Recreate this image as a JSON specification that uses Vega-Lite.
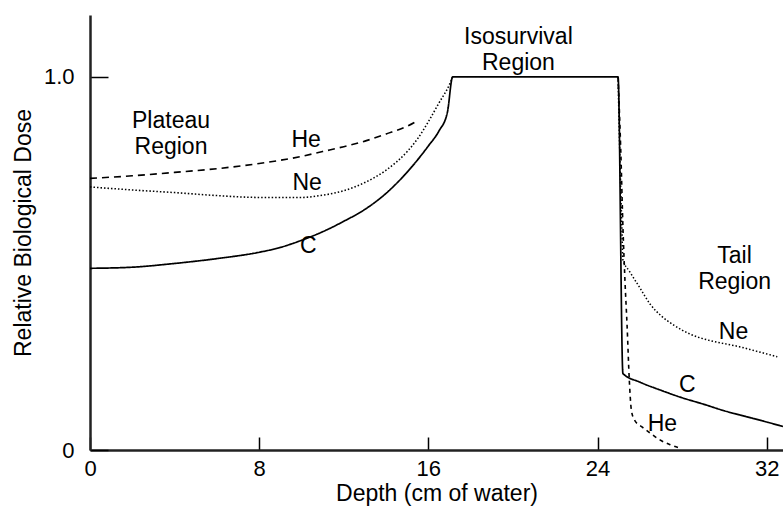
{
  "$schema": "https://vega.github.io/schema/vega-lite/v6.json",
  "width": 693,
  "height": 435,
  "autosize": {"type": "none"},
  "padding": {"left": 90, "top": 15, "right": 0, "bottom": 56},
  "config": {"view": {"stroke": null}, "font": "Liberation Sans"},
  "layer": [
    {
      "data": {"values": [
        {"s": "C", "d": 0, "v": 0.487},
        {"s": "C", "d": 2, "v": 0.49},
        {"s": "C", "d": 4, "v": 0.5},
        {"s": "C", "d": 6, "v": 0.513},
        {"s": "C", "d": 8, "v": 0.53},
        {"s": "C", "d": 9, "v": 0.543},
        {"s": "C", "d": 10, "v": 0.562},
        {"s": "C", "d": 11, "v": 0.585},
        {"s": "C", "d": 12, "v": 0.613},
        {"s": "C", "d": 13, "v": 0.645},
        {"s": "C", "d": 14, "v": 0.688},
        {"s": "C", "d": 15, "v": 0.745},
        {"s": "C", "d": 16, "v": 0.815},
        {"s": "C", "d": 16.5, "v": 0.855},
        {"s": "C", "d": 16.9, "v": 0.905},
        {"s": "C", "d": 17.15, "v": 1.0},
        {"s": "C", "d": 24.97, "v": 1.0},
        {"s": "C", "d": 25.2, "v": 0.205},
        {"s": "C", "d": 26, "v": 0.182},
        {"s": "C", "d": 27, "v": 0.16},
        {"s": "C", "d": 28, "v": 0.14},
        {"s": "C", "d": 29, "v": 0.123},
        {"s": "C", "d": 30, "v": 0.105},
        {"s": "C", "d": 31, "v": 0.09},
        {"s": "C", "d": 32, "v": 0.075},
        {"s": "C", "d": 32.77, "v": 0.063},
        {"s": "He1", "d": 0, "v": 0.728},
        {"s": "He1", "d": 2, "v": 0.735},
        {"s": "He1", "d": 4, "v": 0.744},
        {"s": "He1", "d": 6, "v": 0.754},
        {"s": "He1", "d": 8, "v": 0.768},
        {"s": "He1", "d": 10, "v": 0.787},
        {"s": "He1", "d": 11, "v": 0.8},
        {"s": "He1", "d": 12, "v": 0.813},
        {"s": "He1", "d": 13, "v": 0.828},
        {"s": "He1", "d": 14, "v": 0.847},
        {"s": "He1", "d": 15, "v": 0.868},
        {"s": "He1", "d": 15.4, "v": 0.88},
        {"s": "He2", "d": 24.97, "v": 1.0},
        {"s": "He2", "d": 25.1, "v": 0.8},
        {"s": "He2", "d": 25.2, "v": 0.6},
        {"s": "He2", "d": 25.3, "v": 0.45},
        {"s": "He2", "d": 25.4, "v": 0.33},
        {"s": "He2", "d": 25.5, "v": 0.19},
        {"s": "He2", "d": 25.6, "v": 0.107},
        {"s": "He2", "d": 25.75, "v": 0.08},
        {"s": "He2", "d": 26.1, "v": 0.062},
        {"s": "He2", "d": 26.5, "v": 0.045},
        {"s": "He2", "d": 26.95, "v": 0.027},
        {"s": "He2", "d": 27.4, "v": 0.015},
        {"s": "He2", "d": 27.9, "v": 0.005},
        {"s": "Ne1", "d": 0, "v": 0.705},
        {"s": "Ne1", "d": 2, "v": 0.697},
        {"s": "Ne1", "d": 4, "v": 0.69},
        {"s": "Ne1", "d": 6, "v": 0.682},
        {"s": "Ne1", "d": 8, "v": 0.677},
        {"s": "Ne1", "d": 10, "v": 0.677},
        {"s": "Ne1", "d": 11, "v": 0.683},
        {"s": "Ne1", "d": 12, "v": 0.695},
        {"s": "Ne1", "d": 13, "v": 0.717},
        {"s": "Ne1", "d": 14, "v": 0.75},
        {"s": "Ne1", "d": 15, "v": 0.8},
        {"s": "Ne1", "d": 15.5, "v": 0.835},
        {"s": "Ne1", "d": 16, "v": 0.88},
        {"s": "Ne1", "d": 16.5, "v": 0.93},
        {"s": "Ne1", "d": 17.0, "v": 0.98},
        {"s": "Ne1", "d": 17.15, "v": 1.0},
        {"s": "Ne2", "d": 24.97, "v": 1.0},
        {"s": "Ne2", "d": 25.05, "v": 0.8},
        {"s": "Ne2", "d": 25.15, "v": 0.6},
        {"s": "Ne2", "d": 25.2, "v": 0.51},
        {"s": "Ne2", "d": 25.5, "v": 0.48},
        {"s": "Ne2", "d": 26.0, "v": 0.435},
        {"s": "Ne2", "d": 26.5, "v": 0.39},
        {"s": "Ne2", "d": 27.0, "v": 0.36},
        {"s": "Ne2", "d": 27.6, "v": 0.335},
        {"s": "Ne2", "d": 28.4, "v": 0.31},
        {"s": "Ne2", "d": 29.2, "v": 0.295},
        {"s": "Ne2", "d": 30.0, "v": 0.285},
        {"s": "Ne2", "d": 30.7, "v": 0.277},
        {"s": "Ne2", "d": 31.5, "v": 0.265},
        {"s": "Ne2", "d": 32.5, "v": 0.25}
      ]},
      "mark": {"type": "line", "color": "black", "strokeCap": "butt", "interpolate": "monotone"},
      "encoding": {
        "x": {
          "field": "d", "type": "quantitative",
          "scale": {"domain": [0, 32.77], "nice": false, "zero": false},
          "axis": {
            "values": [0, 8, 16, 24, 32],
            "title": "Depth (cm of water)",
            "grid": false,
            "tickSize": -13,
            "tickColor": "black",
            "tickWidth": 1.5,
            "domainColor": "#222",
            "domainWidth": 2.5,
            "labelFontSize": 22,
            "labelFont": "Liberation Sans",
            "labelColor": "black",
            "labelPadding": 21,
            "labelFlush": false,
            "labelOverlap": false,
            "labelBound": false,
            "titleFont": "Liberation Sans",
            "titleFontSize": 23,
            "titleFontWeight": "normal",
            "titleColor": "black",
            "titlePadding": 3
          }
        },
        "y": {
          "field": "v", "type": "quantitative",
          "scale": {"domain": [0, 1.166], "nice": false},
          "axis": {
            "values": [0, 1],
            "labelExpr": "datum.value == 0 ? '0' : '1.0'",
            "title": "Relative Biological Dose",
            "grid": false,
            "tickSize": -18,
            "tickColor": "black",
            "tickWidth": 1.5,
            "domainColor": "#222",
            "domainWidth": 2.5,
            "labelFontSize": 22,
            "labelFont": "Liberation Sans",
            "labelColor": "black",
            "labelPadding": 34,
            "labelOverlap": false,
            "labelBound": false,
            "titleFont": "Liberation Sans",
            "titleFontSize": 23,
            "titleFontWeight": "normal",
            "titleColor": "black",
            "titlePadding": 8
          }
        },
        "detail": {"field": "s"},
        "strokeDash": {
          "field": "s", "type": "nominal",
          "scale": {"domain": ["C", "He1", "He2", "Ne1", "Ne2"], "range": [[1, 0], [7, 5], [4, 4], [1.5, 2], [1.5, 2]]},
          "legend": null
        },
        "strokeWidth": {
          "field": "s", "type": "nominal",
          "scale": {"domain": ["C", "He1", "He2", "Ne1", "Ne2"], "range": [1.7, 1.5, 1.5, 1.4, 1.4]},
          "legend": null
        }
      }
    },
    {
      "data": {"values": [
        {"t": "Isosurvival\nRegion", "d": 20.26, "v": 1.107},
        {"t": "Plateau\nRegion", "d": 3.83, "v": 0.882},
        {"t": "Tail\nRegion", "d": 30.48, "v": 0.52},
        {"t": "He", "d": 10.22, "v": 0.831},
        {"t": "Ne", "d": 10.27, "v": 0.715},
        {"t": "C", "d": 10.32, "v": 0.548},
        {"t": "Ne", "d": 30.43, "v": 0.317},
        {"t": "C", "d": 28.25, "v": 0.175},
        {"t": "He", "d": 27.07, "v": 0.07}
      ]},
      "mark": {"type": "text", "font": "Liberation Sans", "fontSize": 23, "lineBreak": "\n", "lineHeight": 26, "align": "center", "baseline": "middle", "color": "black"},
      "encoding": {
        "x": {"field": "d", "type": "quantitative"},
        "y": {"field": "v", "type": "quantitative"},
        "text": {"field": "t"}
      }
    }
  ]
}
